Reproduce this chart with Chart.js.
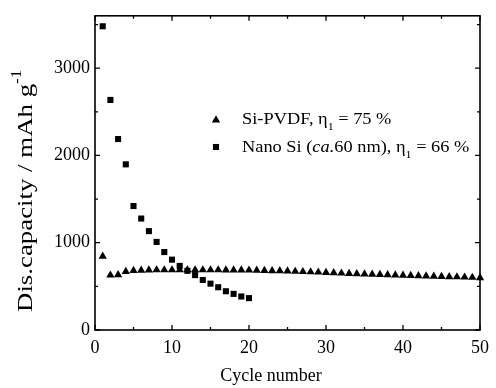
<!DOCTYPE html>
<html>
<head>
<meta charset="utf-8">
<script src="https://cdn.jsdelivr.net/npm/chart.js@4.4.0/dist/chart.umd.min.js"></script>
<style>
    body { margin: 0; background: #fff; }
</style>
</head>
<body>
<canvas id="myChart" width="496" height="388"></canvas>
<script>
// cycle numbers and discharge capacities (mAh/g)
const pvdfCycles = [1, 2, 3, 4, 5, 6, 7, 8, 9, 10, 11, 12, 13, 14, 15, 16, 17, 18, 19, 20,
    21, 22, 23, 24, 25, 26, 27, 28, 29, 30, 31, 32, 33, 34, 35, 36, 37, 38, 39, 40,
    41, 42, 43, 44, 45, 46, 47, 48, 49, 50];
const pvdfCap = [845, 628, 632, 670, 680, 684, 686, 688, 688, 688, 688, 688, 688, 688, 688, 688, 687, 687, 686, 685,
    683, 681, 679, 677, 674, 671, 668, 665, 662, 659, 655, 651, 647, 644, 641, 638, 635, 632, 629, 626,
    623, 621, 619, 616, 613, 610, 608, 605, 602, 598];
const nanoCycles = [1, 2, 3, 4, 5, 6, 7, 8, 9, 10, 11, 12, 13, 14, 15, 16, 17, 18, 19, 20];
const nanoCap = [3480, 2636, 2188, 1898, 1420, 1277, 1133, 1009, 893, 806, 734, 678, 629, 573, 531, 490, 444, 414, 384, 365];

const xTicks = [0, 10, 20, 30, 40, 50];
const xMinor = [5, 15, 25, 35, 45];
const yTicks = [0, 1000, 2000, 3000];
const yMinor = [500, 1500, 2500, 3500];

const serif = "'Liberation Serif', 'Times New Roman', serif";

function drawRuns(ctx, runs, x, y, sx) {
    ctx.save();
    ctx.translate(x, y);
    ctx.scale(sx, 1);
    let cx = 0;
    runs.forEach(r => {
        ctx.font = r.font;
        ctx.fillText(r.t, cx, r.dy || 0);
        cx += ctx.measureText(r.t).width;
    });
    ctx.restore();
}

const frame = {
    id: "frame",
    afterDatasetsDraw(chart) {
        const ctx = chart.ctx;
        const a = chart.chartArea;
        const xs = chart.scales.x;
        const ys = chart.scales.y;
        ctx.save();
        ctx.strokeStyle = "#000";
        ctx.lineWidth = 1.6;
        ctx.strokeRect(a.left, a.top, a.right - a.left, a.bottom - a.top);

        ctx.lineWidth = 1.3;
        ctx.beginPath();
        function xt(v, len) {
            const px = xs.getPixelForValue(v);
            ctx.moveTo(px, a.bottom); ctx.lineTo(px, a.bottom - len);
            ctx.moveTo(px, a.top); ctx.lineTo(px, a.top + len);
        }
        function yt(v, len) {
            const py = ys.getPixelForValue(v);
            ctx.moveTo(a.left, py); ctx.lineTo(a.left + len, py);
            ctx.moveTo(a.right, py); ctx.lineTo(a.right - len, py);
        }
        xTicks.forEach(v => xt(v, 5));
        xMinor.forEach(v => xt(v, 3));
        yTicks.forEach(v => yt(v, 5));
        yMinor.forEach(v => yt(v, 3));
        ctx.stroke();

        // legend
        ctx.fillStyle = "#000";
        Chart.helpers.drawPoint(ctx, { pointStyle: "triangle", radius: 4.8, rotation: 0, borderWidth: 0 }, 216, 120);
        Chart.helpers.drawPoint(ctx, { pointStyle: "rect", radius: 4.3, rotation: 0, borderWidth: 0 }, 216, 147);

        const f = "17px " + serif;
        const fs = "11px " + serif;
        ctx.textBaseline = "alphabetic";
        ctx.textAlign = "left";
        drawRuns(ctx, [
            { t: "Si-PVDF, \u03b7", font: f },
            { t: "1", font: fs, dy: 6 },
            { t: " = 75 %", font: f }
        ], 242, 124, 1.08);
        drawRuns(ctx, [
            { t: "Nano Si (", font: f },
            { t: "ca.", font: "italic 17px " + serif },
            { t: "60 nm), \u03b7", font: f },
            { t: "1", font: fs, dy: 6 },
            { t: " = 66 %", font: f }
        ], 242, 152, 1.08);

        // axis titles
        ctx.font = "18px " + serif;
        ctx.textAlign = "center";
        ctx.fillText("Cycle number", 271, 381);

        ctx.save();
        ctx.translate(32, 312);
        ctx.rotate(-Math.PI / 2);
        ctx.textAlign = "left";
        drawRuns(ctx, [
            { t: "Dis.capacity / mAh g", font: "22px " + serif },
            { t: "-1", font: "14px " + serif, dy: -11 }
        ], 0, 0, 1.22);
        ctx.restore();
        ctx.restore();
    }
};

const ctx = document.getElementById("myChart").getContext("2d");
const chart = new Chart(ctx, {
    type: "scatter",
    data: {
        datasets: [{
            label: "Si-PVDF",
            data: pvdfCycles.map((c, i) => ({ x: c, y: pvdfCap[i] })),
            pointStyle: "triangle",
            pointRadius: 4.8,
            backgroundColor: "#000",
            borderColor: "#000",
            borderWidth: 0,
            clip: false
        }, {
            label: "Nano Si",
            data: nanoCycles.map((c, i) => ({ x: c, y: nanoCap[i] })),
            pointStyle: "rect",
            pointRadius: 4.3,
            backgroundColor: "#000",
            borderColor: "#000",
            borderWidth: 0,
            clip: false
        }]
    },
    options: {
        responsive: false,
        animation: false,
        devicePixelRatio: 1,
        layout: { padding: { top: 12, right: 10, left: 0, bottom: 0 } },
        plugins: { legend: { display: false }, tooltip: { enabled: false } },
        scales: {
            x: {
                type: "linear",
                min: 0,
                max: 50,
                afterFit(s) { s.height = 58; },
                afterBuildTicks(s) { s.ticks = xTicks.map(v => ({ value: v })); },
                grid: { display: false, drawTicks: false },
                border: { display: false },
                ticks: { font: { family: serif, size: 18 }, color: "#000", padding: 7, maxRotation: 0,
                    callback: v => String(v) }
            },
            y: {
                type: "linear",
                min: 0,
                max: 3600,
                afterFit(s) { s.width = 95; },
                afterBuildTicks(s) { s.ticks = yTicks.map(v => ({ value: v })); },
                grid: { display: false, drawTicks: false },
                border: { display: false },
                ticks: { font: { family: serif, size: 18 }, color: "#000", padding: 5,
                    callback: v => String(v) }
            }
        }
    },
    plugins: [frame]
});
</script>
</body>
</html>
